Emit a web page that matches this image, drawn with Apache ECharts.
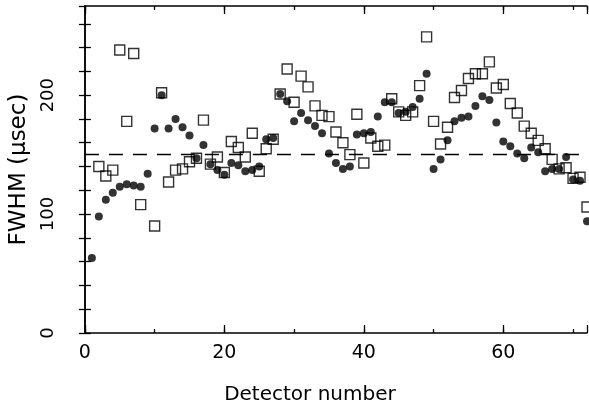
<!DOCTYPE html>
<html>
<head>
<meta charset="utf-8">
<script src="https://cdn.jsdelivr.net/npm/echarts@6/dist/echarts.min.js"></script>
<style>
html,body{margin:0;padding:0;background:#fff;}
#chart{width:589px;height:410px;}
</style>
</head>
<body>
<div id="chart"></div>
<script>
const detectors = [1,2,3,4,5,6,7,8,9,10,11,12,13,14,15,16,17,18,19,20,21,22,23,24,25,26,27,28,29,30,31,32,33,34,35,36,37,38,39,40,41,42,43,44,45,46,47,48,49,50,51,52,53,54,55,56,57,58,59,60,61,62,63,64,65,66,67,68,69,70,71,72];
const filledCircles = [63,98,112,118,123,125,124,123,134,172,200,172,180,173,166,147,158,142,137,133,143,141,136,137,140,163,164,201,195,178,185,179,174,168,151,143,138,140,167,168,169,182,194,194,185,186,190,197,218,138,146,162,178,181,182,191,199,196,177,161,157,151,147,156,152,136,138,138,148,129,128,94];
const openSquares = [null,140,132,137,238,178,235,108,null,90,202,127,137,138,144,147,179,142,148,135,161,156,148,168,136,155,163,201,222,194,216,207,191,183,182,169,160,150,184,143,164,157,158,197,186,183,186,208,249,178,159,173,198,204,214,218,218,228,206,209,193,185,174,168,162,155,146,138,139,130,131,106];
const referenceLevel = 150;
const xTickLabels = ['0','20','40','60'];
const yTickLabels = ['0','100','200'];

const chart = echarts.init(document.getElementById('chart'), null, {renderer:'canvas'});
const FONT = 'DejaVu Sans';
const frame = {show:true, lineStyle:{color:'#000', width:1.5}};
const baseX = {type:'value', min:0, max:72, gridIndex:0};
const baseY = {type:'value', min:0, max:275, gridIndex:0};

const option = {
  backgroundColor:'#fff',
  animation:false,
  grid:{left:78, right:2, top:6, bottom:74, containLabel:false},
  xAxis:[
    Object.assign({}, baseX, {
      position:'bottom', interval:10,
      name:'Detector number', nameLocation:'middle', nameGap:52,
      nameTextStyle:{fontFamily:FONT, fontSize:20, color:'#000', padding:[0,52,0,0]},
      axisLine:frame,
      axisTick:{show:true, inside:true, length:4, lineStyle:{color:'#000', width:1.3}},
      axisLabel:{show:true, margin:11, fontFamily:FONT, fontSize:19, color:'#000',
        showMaxLabel:false,
        formatter:function(v){ const s=String(v); return xTickLabels.indexOf(s)>=0 ? s : ''; }},
      splitLine:{show:false}
    }),
    Object.assign({}, baseX, {
      position:'bottom', interval:20,
      axisLine:{show:false},
      axisTick:{show:true, inside:true, length:8, lineStyle:{color:'#000', width:1.3}},
      axisLabel:{show:false}, splitLine:{show:false}
    }),
    Object.assign({}, baseX, {
      position:'top', interval:10,
      axisLine:frame,
      axisTick:{show:true, inside:true, length:4, lineStyle:{color:'#000', width:1.3}},
      axisLabel:{show:false}, splitLine:{show:false}
    }),
    Object.assign({}, baseX, {
      position:'top', interval:20,
      axisLine:{show:false},
      axisTick:{show:true, inside:true, length:8, lineStyle:{color:'#000', width:1.3}},
      axisLabel:{show:false}, splitLine:{show:false}
    })
  ],
  yAxis:[
    Object.assign({}, baseY, {
      position:'left', interval:20,
      name:'FWHM (μsec)', nameLocation:'middle', nameGap:40,
      nameTextStyle:{fontFamily:FONT, fontSize:23, color:'#000'},
      axisLine:frame,
      axisTick:{show:true, inside:true, length:6, lineStyle:{color:'#000', width:1.3}},
      axisLabel:{show:true, rotate:90, margin:28, fontFamily:FONT, fontSize:18, color:'#000',
        showMaxLabel:false,
        formatter:function(v){ const s=String(v); return yTickLabels.indexOf(s)>=0 ? s : ''; }},
      splitLine:{show:false}
    }),
    Object.assign({}, baseY, {
      position:'right', interval:20,
      axisLine:frame,
      axisTick:{show:true, inside:true, length:6, lineStyle:{color:'#000', width:1.3}},
      axisLabel:{show:false}, splitLine:{show:false}
    })
  ],
  series:[
    {
      name:'open', type:'scatter', xAxisIndex:0, yAxisIndex:0,
      symbol:'rect', symbolSize:10,
      itemStyle:{color:'rgba(255,255,255,0)', borderColor:'#000', borderWidth:1.4},
      data: detectors.map((d,i)=> openSquares[i]==null ? null : [d, openSquares[i]]).filter(p=>p),
      markLine:{
        silent:true, symbol:['none','none'], label:{show:false},
        lineStyle:{color:'#000', type:[14,10], width:1.3},
        data:[{yAxis:referenceLevel}]
      },
      z:3
    },
    {
      name:'filled', type:'scatter', xAxisIndex:0, yAxisIndex:0,
      symbol:'circle', symbolSize:8,
      itemStyle:{color:'#000'},
      data: detectors.map((d,i)=>[d, filledCircles[i]]),
      z:4
    }
  ]
};
chart.setOption(option);
</script>
</body>
</html>
